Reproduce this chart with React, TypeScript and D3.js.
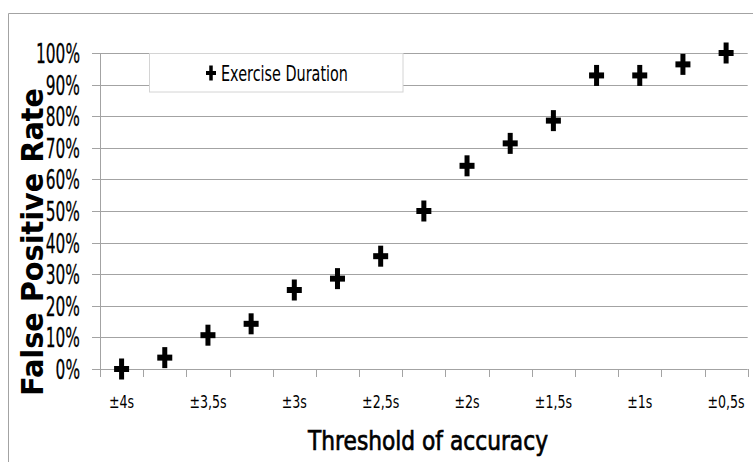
import React from "react";
import * as d3 from "d3";

const categories = [
  "±4s", "±3,75s", "±3,5s", "±3,25s", "±3s", "±2,75s", "±2,5s", "±2,25s",
  "±2s", "±1,75s", "±1,5s", "±1,25s", "±1s", "±0,75s", "±0,5s",
];
const shownLabels = ["±4s", "±3,5s", "±3s", "±2,5s", "±2s", "±1,5s", "±1s", "±0,5s"];
const falsePositiveRate = [0, 3.6, 10.7, 14.3, 25, 28.6, 35.7, 50, 64.3, 71.4, 78.6, 92.9, 92.9, 96.4, 100];
const yTicks = [0, 10, 20, 30, 40, 50, 60, 70, 80, 90, 100];
const seriesName = "Exercise Duration";
const xTitle = "Threshold of accuracy";
const yTitle = "False Positive Rate";

const W = 753;
const H = 462;
const left = 100;
const right = 747.7;
const top = 53;
const bottom = 369;

const x = d3.scaleBand<string>().domain(categories).range([left, right]).padding(0);
const y = d3.scaleLinear().domain([0, 100]).range([bottom, top]);

const FONT = "'DejaVu Sans', Verdana, sans-serif";
const gridColor = "#a3a3a3";

function Plus({ cx, cy, w, h, tw, th }: { cx: number; cy: number; w: number; h: number; tw: number; th: number }) {
  return (
    <g fill="#000">
      <rect x={cx - w / 2} y={cy - th / 2} width={w} height={th} />
      <rect x={cx - tw / 2} y={cy - h / 2} width={tw} height={h} />
    </g>
  );
}

export default function App() {
  const bw = x.bandwidth();
  const boundaries = categories.map((c) => x(c)!).concat([right]);
  return (
    <svg
      width={W}
      height={H}
      style={{ position: "absolute", left: 0, top: 0, background: "#fff" }}
      xmlns="http://www.w3.org/2000/svg"
    >
      <rect x={0} y={0} width={W} height={H} fill="#fff" />
      {/* outer frame */}
      <line x1={8.5} y1={13.5} x2={W} y2={13.5} stroke={gridColor} strokeWidth={1} />
      <line x1={8.5} y1={13.5} x2={8.5} y2={H} stroke={gridColor} strokeWidth={1} />

      {/* gridlines + y ticks */}
      {yTicks.map((t) => (
        <line
          key={"g" + t}
          x1={left - 8}
          x2={right}
          y1={Math.round(y(t)) + 0.5}
          y2={Math.round(y(t)) + 0.5}
          stroke={gridColor}
          strokeWidth={1}
        />
      ))}
      {/* y axis line */}
      <line x1={left + 0.5} x2={left + 0.5} y1={top} y2={bottom + 8} stroke={gridColor} strokeWidth={1} />
      {/* x ticks */}
      {boundaries.map((b, i) => (
        <line
          key={"xt" + i}
          x1={Math.round(b) + 0.5}
          x2={Math.round(b) + 0.5}
          y1={bottom}
          y2={bottom + 8}
          stroke={gridColor}
          strokeWidth={1}
        />
      ))}

      {/* y tick labels */}
      {yTicks.map((t) => (
        <text
          key={"yl" + t}
          transform={`translate(80,${y(t) + 10}) scale(0.57,1)`}
          textAnchor="end"
          fontFamily={FONT}
          fontSize={27}
          fill="#000"
          stroke="#000"
          strokeWidth={0.3}
        >
          {t + "%"}
        </text>
      ))}

      {/* x tick labels */}
      {categories.map((c) =>
        shownLabels.includes(c) ? (
          <text
            key={"xl" + c}
            transform={`translate(${x(c)! + bw / 2},408) scale(0.7,1)`}
            textAnchor="middle"
            fontFamily={FONT}
            fontSize={18}
            fill="#000"
          >
            {c}
          </text>
        ) : null
      )}

      {/* legend */}
      <rect x={149.5} y={53.5} width={253.5} height={38.5} fill="#fff" stroke="#d4d4d4" strokeWidth={1} />
      <Plus cx={211} cy={73} w={10} h={15} tw={3.5} th={4} />
      <text x={221} y={81} fontFamily={FONT} fontSize={22} textLength={127} lengthAdjust="spacingAndGlyphs" fill="#000">
        {seriesName}
      </text>

      {/* markers */}
      {categories.map((c, i) => (
        <Plus key={"p" + c} cx={x(c)! + bw / 2} cy={y(falsePositiveRate[i])} w={15} h={21} tw={5} th={6} />
      ))}

      {/* axis titles */}
      <text
        x={308}
        y={450}
        fontFamily={FONT}
        fontSize={26}
        textLength={240}
        lengthAdjust="spacingAndGlyphs"
        fill="#000"
        stroke="#000"
        strokeWidth={0.7}
      >
        {xTitle}
      </text>
      <text
        transform="translate(43,396) rotate(-90)"
        fontFamily={FONT}
        fontWeight="bold"
        fontSize={30}
        textLength={308}
        lengthAdjust="spacingAndGlyphs"
        fill="#000"
      >
        {yTitle}
      </text>
    </svg>
  );
}
